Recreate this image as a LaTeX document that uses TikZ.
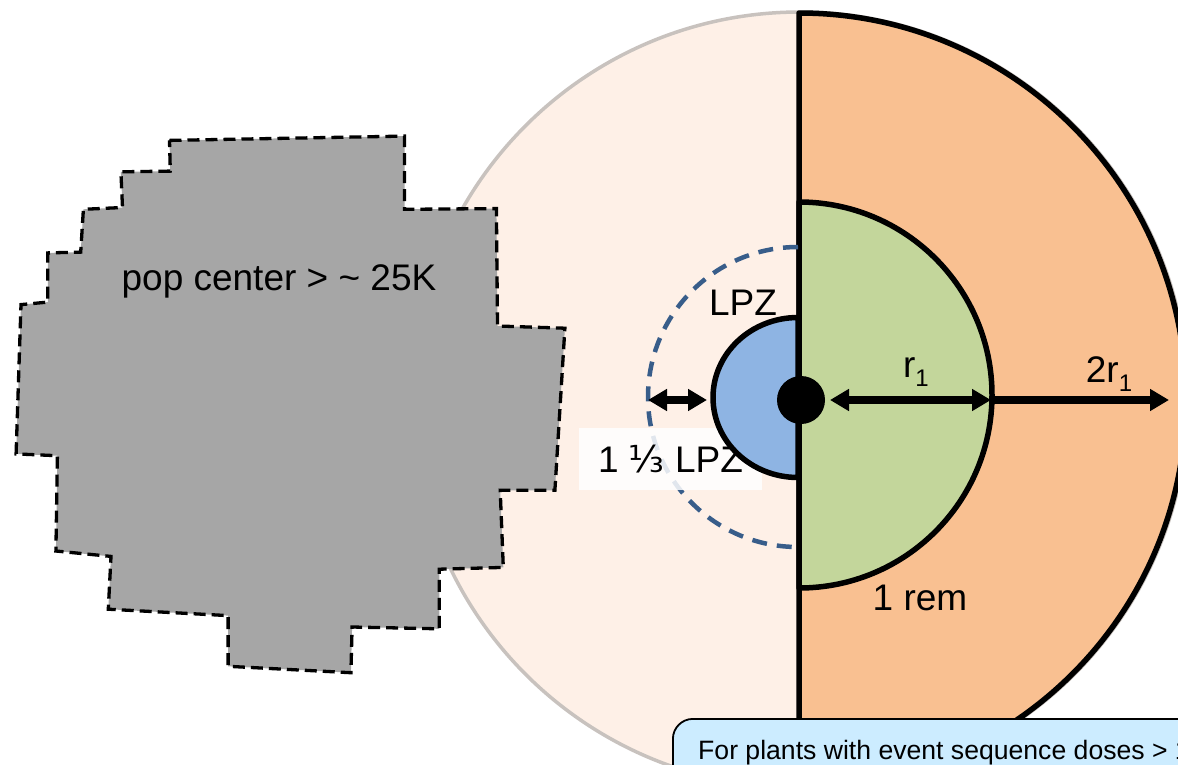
\documentclass[tikz,border=0pt]{standalone}
\usepackage{fontspec}
\setmainfont{Liberation Sans}
\newfontfamily\dejavu{DejaVu Sans}
\usetikzlibrary{arrows.meta}
\definecolor{peach}{RGB}{254,240,231}
\definecolor{peachedge}{RGB}{200,194,190}
\definecolor{orangefill}{RGB}{249,192,145}
\definecolor{greenfill}{RGB}{195,214,155}
\definecolor{bluefill}{RGB}{142,180,227}
\definecolor{popgray}{RGB}{166,166,166}
\definecolor{dashblue}{RGB}{56,93,138}
\definecolor{calloutblue}{RGB}{204,236,255}
\newcommand\subone{\raisebox{-0.27em}{\fontsize{24}{24}\selectfont 1}}
\begin{document}
\begin{tikzpicture}[x=1pt,y=-1pt,
  zoneborder/.style={draw=black, line width=5.5pt, line join=round},
  dimarrow/.style={line width=7.5pt},
  tip/.tip={Triangle[length=19pt,width=21pt]},
  lbl/.style={font=\fontsize{37}{44}\selectfont, inner sep=0pt},
  popshape/.style={fill=popgray, draw=black, line width=3.3pt, dash pattern=on 12pt off 6pt},
  calloutbox/.style={draw=black, line width=1.8pt, fill=calloutblue, rounded corners=20pt}]
\useasboundingbox (0,0) rectangle (1178,764);
\clip (0,0) rectangle (1178,764);
% big light circle
\draw[fill=peach, draw=peachedge, line width=3.5pt] (800,400) circle[radius=388pt];
% population center
\draw[popshape] (169.5,140.4) -- (404.5,136.1) -- (404.5,209.3) -- (496.4,208.6)
  -- (497.5,326) -- (564.9,328.2) -- (554.9,490.3) -- (500.2,490.3) -- (503.3,567.4)
  -- (439.3,569.2) -- (439.3,628.8) -- (352.1,627) -- (350.9,672.7) -- (228.1,666.3)
  -- (228.1,615.6) -- (108.3,609.2) -- (111,556.4) -- (55.9,551) -- (57.4,455.7)
  -- (16.1,453.9) -- (21,304.6) -- (47.8,302.1) -- (47.8,252.9) -- (80.7,252.1)
  -- (83.4,209.3) -- (122.5,207.5) -- (120.9,171.8) -- (170.3,171.1) -- cycle;
\node[lbl] (pop) at (279,281) {pop center > \textasciitilde{} 25K};
% orange half disk (2 r1)
\draw[zoneborder, fill=orangefill] (799,13) arc[start angle=90, end angle=-90, radius=387pt] -- cycle;
% green half disk (r1)
\draw[zoneborder, fill=greenfill] (799,202) arc[start angle=90, end angle=-90, radius=193pt] -- cycle;
% dashed 1 1/3 LPZ arc
\draw[dashblue, line width=4.5pt, dash pattern=on 15pt off 10pt] (798,247) arc[start angle=90, end angle=270, radius=150pt];
% label box
\node[fill=white, fill opacity=0.85, text opacity=1, minimum width=183pt, minimum height=62pt, inner sep=0pt, font=\fontsize{37}{44}\selectfont] (third) at (670.5,459) {1 {\dejavu ⅓} LPZ};
% blue half disk (LPZ)
\draw[zoneborder, fill=bluefill] (798,317.5) arc[start angle=90, end angle=270, x radius=85pt, y radius=80pt] -- cycle;
% plant dot
\node[circle, fill=black, minimum size=48pt, inner sep=0pt] (dot) at (801,400) {};
% arrow end points
\coordinate (dashL) at (648,400);
\coordinate (blueL) at (707,400);
\coordinate (r1L) at (830,400);
\coordinate (greenR) at (991,400);
\coordinate (tipR) at (1169,400);
\draw[dimarrow, tip-tip] (dashL) -- (blueL);
\draw[dimarrow, tip-tip] (r1L) -- (greenR);
\draw[dimarrow, -tip] (greenR) -- (tipR);
% labels
\node[lbl] (lpz) at (743,303) {LPZ};
\node[lbl, anchor=base] (r1) at (916,377) {r\subone};
\node[lbl, anchor=base] (r2) at (1109,382) {2r\subone};
\node[lbl] (rem) at (920,598) {1 rem};
% callout
\node[calloutbox, anchor=north west, minimum width=620pt, minimum height=120pt] (note) at (672,718) {};
\node[font=\fontsize{26.6}{31}\selectfont, inner sep=0pt, anchor=base west] (notetext) at (698,759) {For plants with event sequence doses > 1};
\end{tikzpicture}
\end{document}
